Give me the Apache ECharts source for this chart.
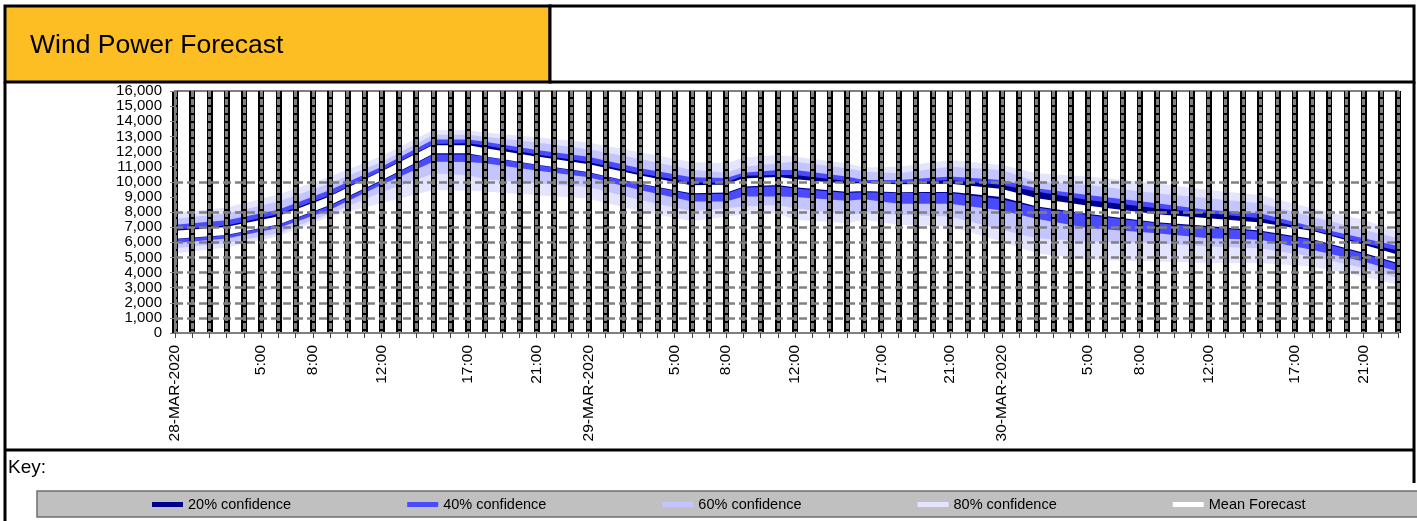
<!DOCTYPE html>
<html><head><meta charset="utf-8">
<script src="https://cdn.jsdelivr.net/npm/echarts@6/dist/echarts.min.js"></script>
<style>html,body{margin:0;padding:0;background:#fff}#c{width:1417px;height:521px}</style>
</head><body><div id="c"></div>
<script>
// ---- data ----
const days = ['28-MAR-2020', '29-MAR-2020', '30-MAR-2020'];
const labeledHours = [0, 5, 8, 12, 17, 21, 24, 29, 32, 36, 41, 45, 48, 53, 56, 60, 65, 69];
const gridLevels = [1000, 2000, 3000, 4000, 5000, 6000, 7000, 8000, 10000];
const sampleHours = [0,3,6,9,12,15,17,18,21,24,27,30,32,33,35,36,39,40,42,45,48,50,53,57,60,63,66,69,71];
const meanForecast = [6500,6750,7450,8750,10400,12150,12150,11950,11400,10900,10150,9500,9550,9950,10050,9900,9600,9650,9570,9600,9250,8650,8150,7590,7330,7040,6490,5570,4900];
const upper20 = [6850,7100,7850,9100,10750,12500,12550,12400,11800,11300,10550,9950,9950,10400,10450,10450,10050,9950,9900,10120,9790,9350,8800,8250,7920,7590,6820,5940,5460];
const upper40 = [7150,7450,8150,9450,11000,12800,12800,12650,12100,11650,10900,10300,10250,10600,10780,10780,10340,10120,10120,10340,10120,9570,9130,8580,8140,7920,7040,6270,5760];
const upper60 = [7550,7900,8700,9900,11300,13100,13100,12980,12600,12150,11500,10800,10600,11000,11220,11330,10890,10670,10560,11000,10780,10010,9790,9240,8910,8580,7700,6820,6270];
const upper80 = [7950,8300,9150,10350,11700,13420,13400,13250,12950,12600,11950,11300,11200,11600,11770,11660,11220,10950,11000,11440,11110,10560,10340,9900,9460,9130,8250,7480,6710];
const lower20 = [6200,6450,7150,8400,10050,11800,11800,11650,11100,10600,9850,9150,9200,9600,9700,9550,9250,9300,9250,9250,8850,8300,7800,7250,6980,6700,6150,5220,4550];
const lower40 = [5950,6250,6950,8150,9800,11330,11300,11220,10750,10300,9450,8700,8700,9020,9020,9000,8750,8850,8550,8550,8100,7550,6950,6600,6270,6160,5500,4730,4070];
const lower60 = [5600,5950,6600,7900,9300,10550,10450,10150,9900,9650,8800,8050,8250,8360,8470,8250,7810,7920,7810,7700,6820,6270,6050,5940,5720,5610,5060,4290,3630];
const lower80 = [5250,5650,6400,7700,8600,9460,9400,9350,9100,8900,8050,7400,7700,7810,7920,7480,7260,7480,7150,7040,6050,5280,4840,4730,4620,4620,4400,3740,3190];

const categories = [];
days.forEach(d => { for (let h = 0; h < 24; h++) categories.push(d + ' ' + h + ':00'); });

const C20 = '#00008E', C40 = '#4A4AFF', C60 = '#C4C4FF', C80 = '#E4E4FF';
const FONT = 'Liberation Sans, Arial, sans-serif';

function pairs(vals) { return sampleHours.map((h, i) => [h, vals[i]]); }
function layer(name, vals, color) {
  return {
    type: 'line', name: name, data: pairs(vals), symbol: 'none', silent: true,
    lineStyle: { width: 0, color: color }, itemStyle: { color: color },
    areaStyle: { color: color, opacity: 1 }, z: 2
  };
}

const series = [
  layer('80% confidence', upper80, C80),
  layer('60% confidence', upper60, C60),
  layer('40% confidence', upper40, C40),
  layer('20% confidence', upper20, C20),
  layer('40% confidence', lower20, C40),
  layer('60% confidence', lower40, C60),
  layer('80% confidence', lower60, C80),
  layer('Below 80% confidence', lower80, '#FFFFFF'),
  {
    type: 'line', name: 'Mean Forecast', data: pairs(meanForecast), symbol: 'none', silent: true,
    lineStyle: { color: '#FFFFFF', width: 8, cap: 'butt' }, itemStyle: { color: '#FFFFFF' }, z: 2
  },
  {
    type: 'line', name: 'gridlines', data: [], z: 4, silent: true,
    markLine: {
      symbol: 'none', silent: true, animation: false, label: { show: false },
      lineStyle: { color: '#808080', width: 2.5, type: [8, 4] },
      data: gridLevels.map(v => ({ yAxis: v }))
    }
  }
];

const chart = echarts.init(document.getElementById('c'), null, { renderer: 'canvas' });
chart.setOption({
  animation: false,
  backgroundColor: '#FFFFFF',
  textStyle: { fontFamily: FONT },
  title: {
    text: 'Wind Power Forecast', left: 30, top: 32, padding: 0, z: 6,
    textStyle: { fontSize: 26.5, fontWeight: 'normal', color: '#000', fontFamily: FONT }
  },
  legend: {
    left: 152, top: 497, padding: 0, itemWidth: 31, itemHeight: 5, itemGap: 116, selectedMode: false,
    textStyle: { fontSize: 14.5, color: '#000', fontFamily: FONT },
    data: [
      { name: '20% confidence', icon: 'rect', itemStyle: { color: C20 } },
      { name: '40% confidence', icon: 'rect', itemStyle: { color: C40 } },
      { name: '60% confidence', icon: 'rect', itemStyle: { color: C60 } },
      { name: '80% confidence', icon: 'rect', itemStyle: { color: C80 } },
      { name: 'Mean Forecast', icon: 'rect', itemStyle: { color: '#FFFFFF' } }
    ]
  },
  grid: {
    left: 175, right: 19, top: 91, bottom: 188, containLabel: false, outerBoundsMode: 'none',
    show: true, borderColor: '#808080', borderWidth: 2, backgroundColor: 'transparent'
  },
  xAxis: [
    {
      type: 'category', data: categories, boundaryGap: false, position: 'bottom', z: 5,
      axisLine: { show: true, lineStyle: { color: '#808080', width: 2 } },
      axisTick: { show: true, interval: 0, length: 5, lineStyle: { color: '#404040' } },
      axisLabel: {
        interval: (i) => labeledHours.includes(i), rotate: 90, fontSize: 15.5, color: '#000', margin: 12,
        fontFamily: FONT, hideOverlap: false,
        formatter: (v, i) => { const h = i % 24; return h === 0 ? days[Math.floor(i / 24)] : h + ':00'; }
      },
      splitLine: { show: true, interval: 0, lineStyle: { color: '#000000', width: 6 } }
    },
    {
      type: 'category', data: categories, boundaryGap: false, position: 'top', z: 6,
      axisLine: { show: false }, axisTick: { show: false }, axisLabel: { show: false },
      splitLine: { show: true, interval: 0, lineStyle: { color: '#808080', width: 3, type: [6, 2] } }
    }
  ],
  yAxis: {
    type: 'value', min: 0, max: 16000, interval: 1000, z: 5,
    axisLine: { show: true, lineStyle: { color: '#808080', width: 2 } },
    axisTick: { show: true, length: 5, lineStyle: { color: '#808080' } },
    axisLabel: {
      fontSize: 15, color: '#000', margin: 13, fontFamily: FONT, lineHeight: 15,
      showMinLabel: true, showMaxLabel: true, hideOverlap: false,
      formatter: v => v.toLocaleString('en-US')
    },
    splitLine: { show: false }
  },
  graphic: [
    { type: 'rect', z: 0, shape: { x: 5, y: 6, width: 545, height: 76 }, style: { fill: '#FDBE24', stroke: '#000', lineWidth: 3 } },
    { type: 'rect', z: 0, shape: { x: 550, y: 6, width: 864, height: 76 }, style: { fill: '#FFFFFF', stroke: '#000', lineWidth: 3 } },
    { type: 'line', z: 0, shape: { x1: 5, y1: 82, x2: 5, y2: 521 }, style: { stroke: '#000', lineWidth: 3 } },
    { type: 'line', z: 0, shape: { x1: 1414, y1: 82, x2: 1414, y2: 483 }, style: { stroke: '#000', lineWidth: 3 } },
    { type: 'line', z: 0, shape: { x1: 5, y1: 450, x2: 1414, y2: 450 }, style: { stroke: '#000', lineWidth: 3 } },
    { type: 'text', z: 1, x: 8, y: 458, style: { text: 'Key:', fontSize: 19, fill: '#000', fontFamily: FONT, verticalAlign: 'top' } },
    { type: 'rect', z: 1, shape: { x: 37, y: 491, width: 1400, height: 26 }, style: { fill: '#C0C0C0', stroke: '#6E6E6E', lineWidth: 1.5 } }
  ],
  series: series
});
</script>
</body></html>
